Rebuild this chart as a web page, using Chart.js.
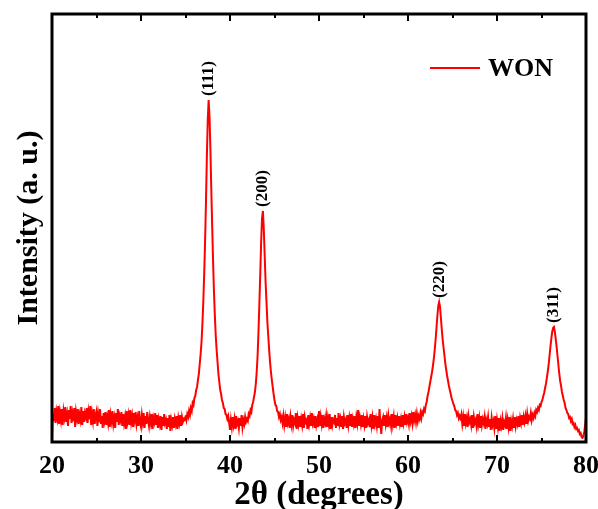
<!DOCTYPE html>
<html>
<head>
<meta charset="utf-8">
<script src="https://cdn.jsdelivr.net/npm/chart.js@4/dist/chart.umd.min.js"></script>
<style>
  html, body { margin: 0; padding: 0; background: #fff; }
  #xrd { display: block; }
</style>
</head>
<body>
<canvas id="xrd" width="598" height="509"></canvas>
<script>
// Scan settings (2θ, degrees) - constant step scan
const scanStart = 20
const scanStep = 0.1

// Intensity (a. u.), one value per scan step from 20.0 to 80.0
const intensity = [
  // 20.0 - 24.9
  6, 28, 21, 34, 19, 30, 24, 36, 18, 29,
  22, 33, 17, 31, 25, 35, 20, 27, 16, 32,
  23, 36, 19, 28, 21, 34, 15, 30, 24, 33,
  18, 27, 22, 35, 17, 31, 20, 29, 25, 34,
  19, 30, 23, 36, 17, 28, 21, 33, 18, 27,
  // 25.0 - 29.9
  31, 16, 27, 20, 33, 18, 26, 14, 29, 22,
  30, 17, 25, 19, 32, 15, 27, 21, 31, 18,
  24, 14, 29, 20, 33, 17, 26, 22, 30, 16,
  28, 19, 25, 13, 31, 21, 27, 17, 32, 20,
  26, 15, 29, 22, 30, 18, 24, 16, 31, 19,
  // 30.0 - 34.9
  15, 27, 20, 29, 14, 26, 18, 30, 22, 16,
  25, 19, 28, 13, 24, 20, 29, 17, 27, 14,
  23, 18, 26, 12, 25, 16, 28, 19, 22, 13,
  24, 15, 27, 11, 22, 17, 25, 14, 23, 18,
  26, 13, 24, 19, 27, 16, 25, 20, 23, 22,
  // 35.0 - 40.0  (111)
  26, 22, 28, 25, 31, 27, 34, 31, 39, 37,
  44, 46, 52, 55, 62, 68, 78, 88, 100, 118,
  140, 168, 200, 240, 285, 322, 342, 325, 292, 252,
  215, 180, 150, 126, 106, 92, 80, 68, 60, 52,
  48, 42, 39, 34, 33, 28, 27, 23, 26, 20, 12,
  // 40.1 - 41.9
  22, 15, 25, 17, 23, 13, 26, 18, 21, 14, 24, 16, 27, 15, 22, 18, 25, 20, 23,
  // 42.0 - 45.9  (200)
  21, 28, 26, 32, 30, 37, 40, 45, 50, 58,
  70, 86, 110, 138, 168, 200, 224, 231, 212, 186,
  160, 140, 120, 106, 92, 80, 70, 62, 55, 48,
  42, 37, 36, 31, 30, 25, 28, 22, 25, 19,
  // 46.0 - 61.4
  26, 17, 24, 15, 28, 19, 23, 14, 25, 18,
  27, 16, 22, 19, 29, 13, 24, 18, 26, 15,
  23, 17, 28, 14, 25, 20, 22, 13, 27, 18,
  24, 16, 29, 19, 23, 14, 26, 17, 22, 15,
  31, 16, 25, 18, 27, 14, 23, 19, 26, 15,
  24, 18, 28, 13, 25, 17, 22, 20, 27, 14,
  24, 16, 29, 18, 23, 15, 26, 13, 25, 19,
  22, 14, 27, 17, 24, 16, 28, 15, 23, 18,
  26, 14, 25, 19, 32, 16, 24, 18, 27, 15,
  23, 17, 26, 14, 25, 19, 22, 15, 28, 17,
  24, 13, 27, 18, 23, 16, 26, 14, 33, 17,
  8, 22, 25, 16, 27, 18, 24, 15, 26, 19,
  23, 16, 28, 18, 25, 14, 27, 19, 24, 16,
  26, 18, 23, 15, 27, 19, 25, 17, 28, 20,
  24, 18, 29, 21, 26, 19, 30, 22, 27, 20,
  28, 21, 26, 23, 29,
  // 61.5 - 65.9  (220)
  24, 30, 28, 33, 31,
  37, 40, 46, 50, 55, 60, 65, 70, 76, 83,
  92, 102, 114, 126, 136, 140, 135, 124, 112, 102,
  94, 86, 78, 72, 66, 61, 56, 52, 48, 44,
  41, 38, 36, 32, 31, 27, 29, 24, 27, 22,
  // 66.0 - 73.9
  27, 18, 25, 16, 28, 19, 24, 15, 26, 20,
  23, 17, 27, 14, 25, 19, 22, 16, 28, 18,
  24, 14, 26, 17, 23, 19, 25, 13, 22, 18,
  25, 15, 23, 12, 24, 17, 21, 14, 26, 13,
  22, 15, 24, 11, 21, 16, 23, 12, 20, 17,
  24, 13, 22, 15, 25, 11, 21, 16, 23, 14,
  25, 16, 22, 18, 26, 15, 24, 19, 27, 17,
  25, 20, 26, 18, 28, 21, 25, 23, 29, 22,
  // 74.0 - 80.0  (311)
  27, 24, 29, 26, 32, 30, 34, 32, 37, 36,
  40, 42, 46, 49, 54, 58, 64, 70, 77, 86,
  95, 103, 110, 114, 115, 110, 103, 95, 86, 77,
  68, 61, 56, 50, 46, 42, 39, 34, 32, 29,
  28, 24, 25, 21, 23, 18, 19, 15, 17, 13,
  14, 11, 12, 8, 9, 5, 4, 6, 10, 16, 25
]

// Reflection labels
const peakLabels = ['(111)', '(200)', '(220)', '(311)']
const peakAngles = [37.6, 43.7, 63.5, 76.4]

const seriesName = 'WON'
const lineColor = '#ff0000'
const fontFamily = '"Liberation Serif", "Times New Roman", serif'

const points = intensity.map((y, i) => ({ x: +(scanStart + i * scanStep).toFixed(1), y }))

// Frame + inward ticks on bottom and top edges
const framePlugin = {
  id: 'frame',
  afterDraw(chart) {
    const { ctx, chartArea: a, scales: { x } } = chart
    ctx.save()
    ctx.strokeStyle = '#000'
    ctx.lineWidth = 2
    for (let v = x.min; v <= x.max; v += 5) {
      const px = Math.round(x.getPixelForValue(v))
      const len = v % 10 === 0 ? 7 : 4
      ctx.beginPath()
      ctx.moveTo(px, a.bottom)
      ctx.lineTo(px, a.bottom - len)
      ctx.moveTo(px, a.top)
      ctx.lineTo(px, a.top + len)
      ctx.stroke()
    }
    ctx.lineWidth = 3
    ctx.strokeRect(a.left, a.top, a.right - a.left, a.bottom - a.top)
    ctx.restore()
  }
}

// Peak labels (rotated) and the inset legend
const labelPlugin = {
  id: 'labels',
  afterDatasetsDraw(chart) {
    const { ctx, chartArea: a, scales: { x, y } } = chart
    ctx.save()
    ctx.fillStyle = '#000'
    ctx.font = 'bold 17px ' + fontFamily
    ctx.textAlign = 'left'
    ctx.textBaseline = 'middle'
    peakLabels.forEach((label, i) => {
      const idx = Math.round((peakAngles[i] - scanStart) / scanStep)
      const px = x.getPixelForValue(peakAngles[i])
      const py = y.getPixelForValue(intensity[idx]) - 4
      ctx.save()
      ctx.translate(px, py)
      ctx.rotate(-Math.PI / 2)
      ctx.fillText(label, 0, 0)
      ctx.restore()
    })

    // legend
    const ly = a.top + 54
    const lx = a.right - 156
    ctx.strokeStyle = lineColor
    ctx.lineWidth = 2
    ctx.beginPath()
    ctx.moveTo(lx, ly)
    ctx.lineTo(lx + 50, ly)
    ctx.stroke()
    ctx.font = 'bold 26px ' + fontFamily
    ctx.fillText(seriesName, lx + 58, ly + 1)
    ctx.restore()
  }
}

new Chart(document.getElementById('xrd'), {
  type: 'line',
  data: {
    datasets: [{
      label: seriesName,
      data: points,
      borderColor: lineColor,
      borderWidth: 2,
      pointRadius: 0,
      // tiny tension keeps Chart.js off its per-pixel fast path (which leaves blips on steep flanks)
      tension: 0.0001
    }]
  },
  options: {
    responsive: false,
    animation: false,
    layout: { padding: { top: 14, right: 12, left: 0, bottom: 0 } },
    plugins: { legend: { display: false }, tooltip: { enabled: false } },
    scales: {
      x: {
        type: 'linear',
        min: 20,
        max: 80,
        grid: { display: false, drawTicks: false },
        border: { display: false },
        ticks: {
          stepSize: 10,
          padding: 9,
          maxRotation: 0,
          color: '#000',
          font: { family: fontFamily, size: 26, weight: 'bold' }
        },
        title: {
          display: true,
          text: '2θ (degrees)',
          color: '#000',
          padding: { top: 0, bottom: 0 },
          font: { family: fontFamily, size: 33, weight: 'bold', lineHeight: 0.8 }
        },
        afterFit(scale) {
          scale.height = 67
          scale.paddingLeft = 0
          scale.paddingRight = 0
        }
      },
      y: {
        min: 0,
        max: 428,
        grid: { display: false, drawTicks: false },
        border: { display: false },
        ticks: { display: false },
        title: {
          display: true,
          text: 'Intensity (a. u.)',
          color: '#000',
          padding: { top: 11, bottom: 0 },
          font: { family: fontFamily, size: 30, weight: 'bold' }
        },
        afterFit(scale) {
          scale.width = 52
          scale.paddingTop = 0
          scale.paddingBottom = 0
        }
      }
    }
  },
  plugins: [framePlugin, labelPlugin]
})
</script>
</body>
</html>
